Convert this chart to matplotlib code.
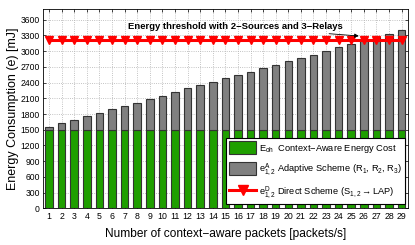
import matplotlib
matplotlib.use("Agg")
import matplotlib.pyplot as plt
import numpy as np
from matplotlib.patches import Patch
from matplotlib.lines import Line2D

plt.rcParams['font.family'] = ['Liberation Sans', 'DejaVu Sans']
plt.rcParams['mathtext.fontset'] = 'custom'
plt.rcParams['mathtext.rm'] = 'Liberation Sans'
plt.rcParams['mathtext.it'] = 'Liberation Sans:italic'

packets = list(range(1, 30))
e_oh = [1500] * 29
total = [1557, 1621, 1692, 1756, 1821, 1891, 1955, 2019, 2083, 2148,
         2225, 2288, 2346, 2417, 2481, 2538, 2609, 2673, 2737, 2808,
         2865, 2936, 3000, 3071, 3141, 3205, 3270, 3327, 3398]
adaptive = [t - e for t, e in zip(total, e_oh)]
threshold = [3210] * 29
yticks = list(range(0, 3601, 300))

fig = plt.figure(figsize=(4.15, 2.45), dpi=100)
ax = fig.add_axes([0.103, 0.150, 0.880, 0.812])

green = '#1f9f00'
gray = '#808080'
ax.bar(packets, e_oh, width=0.6, color=green, edgecolor='#333333', linewidth=0.8, zorder=3)
ax.bar(packets, adaptive, bottom=e_oh, width=0.6, color=gray, edgecolor='#333333', linewidth=0.8, zorder=3)
ax.plot(packets, threshold, color='red', linewidth=2.2, marker='v', markersize=5.5, zorder=4)

ax.set_xlim(0.5, 29.5)
ax.set_ylim(0, 3800)
ax.set_xticks(packets)
ax.set_yticks(yticks)
ax.tick_params(direction='in', length=2.5, width=0.5, top=True, right=True, pad=2)
ax.tick_params(axis='y', labelsize=6.2)
ax.tick_params(axis='x', labelsize=6.3, pad=3)
ax.grid(True, linestyle=':', color='#b0b0b0', linewidth=0.6, zorder=0)
ax.set_axisbelow(True)
for s in ax.spines.values():
    s.set_linewidth(0.6)

ax.set_xlabel('Number of context\u2212aware packets [packets/s]', fontsize=8.6, labelpad=4.5)
ax.set_ylabel('Energy Consumption (e) [mJ]', fontsize=9.0, labelpad=1)

ax.annotate('Energy threshold with 2\u2212Sources and 3\u2212Relays',
            xy=(25.6, 3290), xytext=(7.25, 3473),
            fontsize=6.8, fontweight='bold', ha='left', va='center',
            arrowprops=dict(arrowstyle='-|>', color='black', lw=0.6,
                            mutation_scale=6, shrinkA=0, shrinkB=0),
            zorder=5)

handles = [
    Patch(facecolor=green, edgecolor='#333333', linewidth=0.8),
    Patch(facecolor=gray, edgecolor='#333333', linewidth=0.8),
    Line2D([], [], color='red', linewidth=2.2, marker='v', markersize=6.5),
]
labels = [
    r'E$_{\rm oh}$  Context$-$Aware Energy Cost',
    r'e$^{\rm A}_{1,2}$ Adaptive Scheme (R$_1$, R$_2$, R$_3$)',
    r'e$^{\rm D}_{1,2}$ Direct Scheme (S$_{1,2}$$\rightarrow$LAP)',
]
leg = ax.legend(handles, labels, loc='lower right', fontsize=6.7, frameon=True,
                fancybox=False, edgecolor='black', framealpha=1,
                bbox_to_anchor=(0.992, 0.022), handlelength=2.9, handleheight=1.75,
                borderpad=0.35, labelspacing=0.75, handletextpad=0.25, borderaxespad=0)
leg.get_frame().set_linewidth(0.8)
leg.set_zorder(6)

fig.savefig('out.png', dpi=100)
